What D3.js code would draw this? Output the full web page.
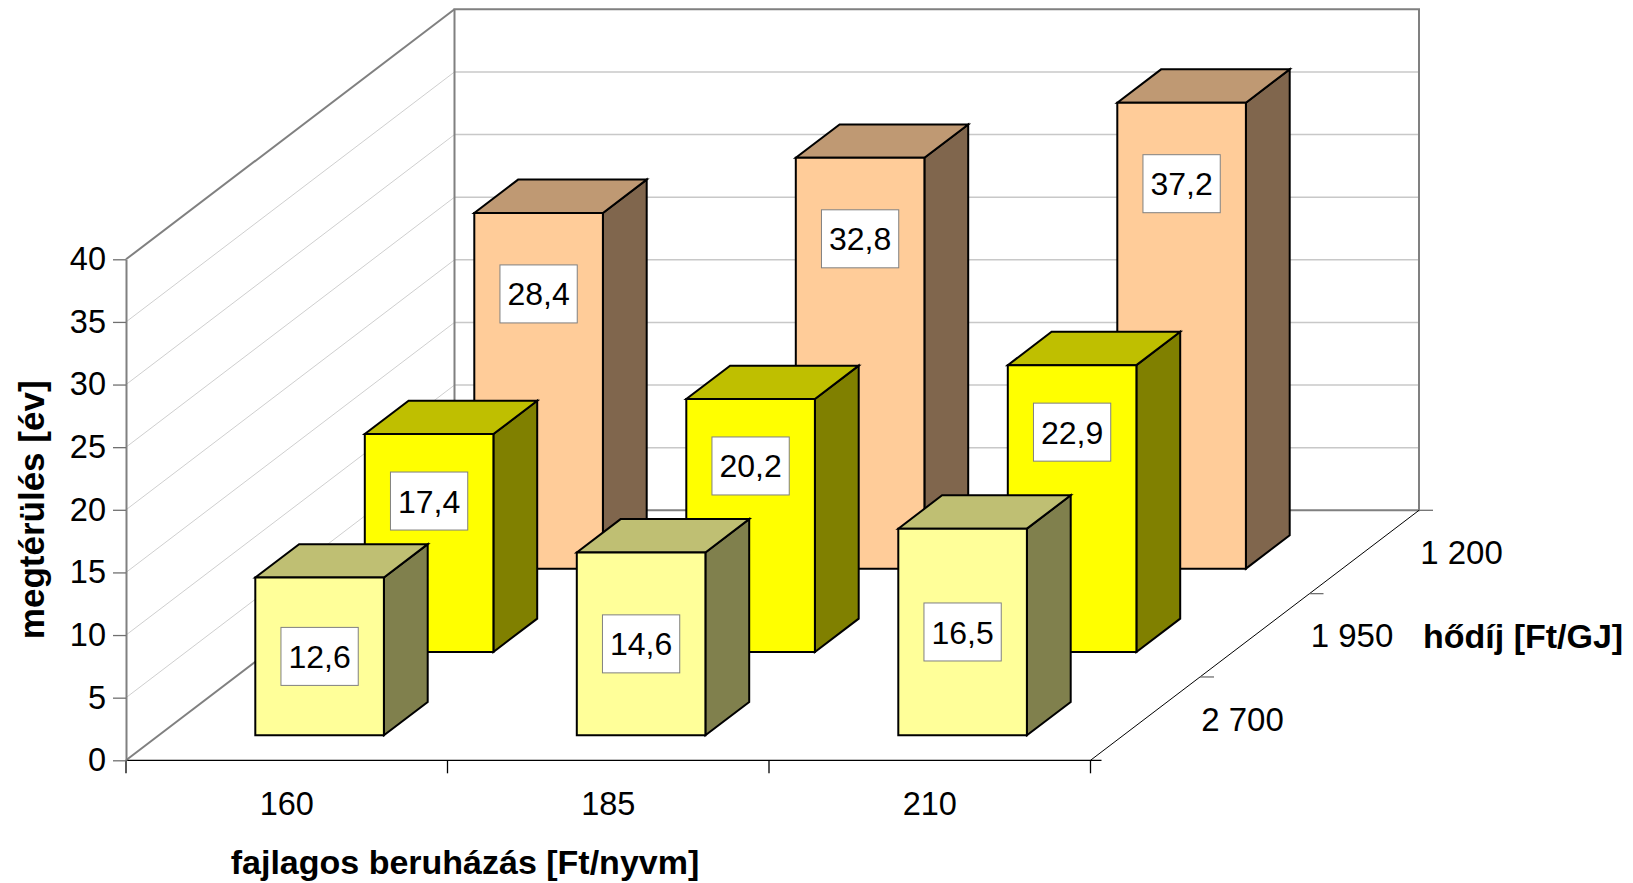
<!DOCTYPE html>
<html>
<head>
<meta charset="utf-8">
<script src="https://cdn.jsdelivr.net/npm/d3@7"></script>
<style>
  html, body { margin: 0; padding: 0; background: #ffffff; }
  svg { display: block; font-family: "Liberation Sans", Arial, Helvetica, sans-serif; }
</style>
</head>
<body>
<svg id="chart" width="1633" height="883"></svg>
<script>
// ---- data ----
const categories = ["160", "185", "210"];           // fajlagos beruházás [Ft/nyvm]
const seriesNames = ["2 700", "1 950", "1 200"];      // hődíj [Ft/GJ], front row to back row
const values2700 = [12.6, 14.6, 16.5];
const values1950 = [17.4, 20.2, 22.9];
const values1200 = [28.4, 32.8, 37.2];
const yTicks = [0, 5, 10, 15, 20, 25, 30, 35, 40];

const seriesValues = [values2700, values1950, values1200];
const frontColors = ["#FFFF99", "#FFFF00", "#FFCC99"];
// value box placement per row: centred on the face, or a fixed distance below the bar top
const labelTopOffset = [null, 67, 81];

// ---- layout of the box (front plane + depth vector) ----
const X0 = 126, X1 = 1090.5, Y0 = 760.3, Y1 = 259.3;
const DX = 328.5, DY = -250;
const FONT = "'Liberation Sans', Arial, Helvetica, sans-serif";

const svg = d3.select("#chart");

const x = d3.scaleBand().domain(categories).range([X0, X1]).paddingInner(0.6).paddingOuter(0.3);
const y = d3.scaleLinear().domain([0, 40]).range([Y0, Y1]);
const z = d3.scaleBand().domain(seriesNames).range([0, 1]).paddingInner(0.6).paddingOuter(0.3);

const proj = (px, py, d) => [px + DX * d, py + DY * d];
const pts = arr => arr.map(p => p.join(",")).join(" ");
const shade = (c, k) => { const r = d3.rgb(c); return d3.rgb(r.r * k, r.g * k, r.b * k).formatHex(); };

const fmt = d3.formatLocale({ decimal: ",", thousands: " ", grouping: [3], currency: ["", ""] }).format(".1f");

// ---- walls ----
const walls = svg.append("g");
const inner = yTicks.filter(t => t > 0 && t < 40);

// side wall grid (diagonals)
walls.selectAll("line.sgrid").data(inner).join("line")
  .attr("class", "sgrid")
  .attr("x1", t => proj(X0, y(t), 0)[0]).attr("y1", t => proj(X0, y(t), 0)[1])
  .attr("x2", t => proj(X0, y(t), 1)[0]).attr("y2", t => proj(X0, y(t), 1)[1])
  .attr("stroke", "#cfcfcf").attr("stroke-width", 1);

// back wall grid
walls.selectAll("line.bgrid").data(inner).join("line")
  .attr("class", "bgrid")
  .attr("x1", t => proj(X0, y(t), 1)[0]).attr("y1", t => proj(X0, y(t), 1)[1])
  .attr("x2", t => proj(X1, y(t), 1)[0]).attr("y2", t => proj(X1, y(t), 1)[1])
  .attr("stroke", "#c8c8c8").attr("stroke-width", 1.5);

// back wall frame
walls.append("polygon")
  .attr("points", pts([proj(X0, y(40), 1), proj(X1, y(40), 1), proj(X1, y(0), 1), proj(X0, y(0), 1)]))
  .attr("fill", "none").attr("stroke", "#808080").attr("stroke-width", 2);

// side wall top and bottom edges
[40, 0].forEach(t => {
  const a = proj(X0, y(t), 0), b = proj(X0, y(t), 1);
  walls.append("line")
    .attr("x1", a[0]).attr("y1", a[1]).attr("x2", b[0]).attr("y2", b[1])
    .attr("stroke", "#808080").attr("stroke-width", 2);
});

// ---- floor axes ----
const axes = svg.append("g");

// category axis line (front floor edge)
axes.append("line")
  .attr("x1", X0).attr("y1", Y0).attr("x2", X1 + 11).attr("y2", Y0)
  .attr("stroke", "#000").attr("stroke-width", 1.3);

// category boundary ticks
const xBounds = d3.range(categories.length + 1).map(i => X0 + i * x.step());
axes.selectAll("line.xtick").data(xBounds).join("line")
  .attr("class", "xtick")
  .attr("x1", d => d).attr("x2", d => d).attr("y1", Y0).attr("y2", Y0 + 13)
  .attr("stroke", "#000").attr("stroke-width", 1.3);

// series (depth) axis line
const dA = proj(X1, Y0, 0), dB = proj(X1, Y0, 1);
axes.append("line")
  .attr("x1", dA[0]).attr("y1", dA[1]).attr("x2", dB[0]).attr("y2", dB[1])
  .attr("stroke", "#000").attr("stroke-width", 1);

// series boundary ticks
const zBounds = d3.range(1, seriesNames.length + 1).map(i => i * z.step());
axes.selectAll("line.ztick").data(zBounds).join("line")
  .attr("class", "ztick")
  .attr("x1", d => proj(X1, Y0, d)[0]).attr("y1", d => proj(X1, Y0, d)[1])
  .attr("x2", d => proj(X1, Y0, d)[0] + 14).attr("y2", d => proj(X1, Y0, d)[1])
  .attr("stroke", "#707070").attr("stroke-width", 1.3);

// value axis
const yAxis = svg.append("g")
  .attr("transform", `translate(${X0},0)`)
  .call(d3.axisLeft(y).tickValues(yTicks).tickSize(13).tickSizeOuter(0).tickPadding(7).tickFormat(d3.format("d")));
yAxis.select(".domain").attr("stroke", "#808080").attr("stroke-width", 2);
yAxis.selectAll(".tick line").attr("stroke", "#707070").attr("stroke-width", 1.3);
yAxis.selectAll(".tick text")
  .attr("font-size", 32.5).attr("fill", "#000").attr("font-family", FONT);

// category labels
const xAxis = svg.append("g")
  .attr("transform", `translate(0,${Y0})`)
  .call(d3.axisBottom(x).tickSize(0).tickPadding(32));
xAxis.select(".domain").remove();
xAxis.selectAll(".tick text")
  .attr("font-size", 32.5).attr("fill", "#000").attr("font-family", FONT);

// series labels
svg.append("g").selectAll("text").data(seriesNames).join("text")
  .attr("x", s => proj(X1, Y0, z(s) + z.bandwidth() / 2)[0] + 56)
  .attr("y", s => proj(X1, Y0, z(s) + z.bandwidth() / 2)[1])
  .attr("dy", "0.36em")
  .attr("font-size", 33).attr("fill", "#000")
  .text(s => s);

// ---- bars (back row first) ----
const bars = svg.append("g");
const labels = [];
for (let si = seriesNames.length - 1; si >= 0; si--) {
  const s = seriesNames[si];
  const d0 = z(s), d1 = z(s) + z.bandwidth();
  const col = frontColors[si];
  seriesValues[si].forEach((v, ci) => {
    const c = categories[ci];
    const xl = x(c), xr = x(c) + x.bandwidth();
    const yb = y(0), yt = y(v);
    const g = bars.append("g")
      .attr("stroke", "#000").attr("stroke-width", 2).attr("stroke-linejoin", "miter");
    g.append("polygon") // side face
      .attr("points", pts([proj(xr, yt, d0), proj(xr, yt, d1), proj(xr, yb, d1), proj(xr, yb, d0)]))
      .attr("fill", shade(col, 0.5));
    g.append("polygon") // top face
      .attr("points", pts([proj(xl, yt, d0), proj(xr, yt, d0), proj(xr, yt, d1), proj(xl, yt, d1)]))
      .attr("fill", shade(col, 0.75));
    g.append("polygon") // front face
      .attr("points", pts([proj(xl, yt, d0), proj(xr, yt, d0), proj(xr, yb, d0), proj(xl, yb, d0)]))
      .attr("fill", col);
    const off = labelTopOffset[si];
    labels.push({
      v,
      cx: proj(xl + x.bandwidth() / 2, 0, d0)[0],
      cy: off === null ? proj(0, y(v / 2), d0)[1] : proj(0, yt, d0)[1] + off
    });
  });
}

// ---- value boxes ----
const lab = svg.append("g").selectAll("g").data(labels).join("g")
  .attr("transform", d => `translate(${d.cx},${d.cy})`);
lab.append("rect").attr("fill", "#fff").attr("stroke", "#808080").attr("stroke-width", 1);
lab.append("text")
  .attr("text-anchor", "middle").attr("dy", "0.36em")
  .attr("font-size", 32).attr("fill", "#000")
  .text(d => fmt(d.v));
lab.each(function () {
  const g = d3.select(this);
  const w = g.select("text").node().getComputedTextLength() + 15;
  const h = 58;
  g.select("rect").attr("x", -w / 2).attr("y", -h / 2).attr("width", w).attr("height", h);
});

// ---- axis titles ----
svg.append("text")
  .attr("x", 465).attr("y", 874)
  .attr("text-anchor", "middle").attr("font-size", 34).attr("font-weight", "bold")
  .text("fajlagos beruházás [Ft/nyvm]");

svg.append("text")
  .attr("transform", `translate(44,${(Y0 + Y1) / 2}) rotate(-90)`)
  .attr("text-anchor", "middle").attr("font-size", 35).attr("font-weight", "bold")
  .text("megtérülés [év]");

svg.append("text")
  .attr("x", 1423).attr("y", proj(X1, Y0, z("1 950") + z.bandwidth() / 2)[1])
  .attr("dy", "0.36em")
  .attr("font-size", 34).attr("font-weight", "bold")
  .text("hődíj [Ft/GJ]");
</script>
</body>
</html>
